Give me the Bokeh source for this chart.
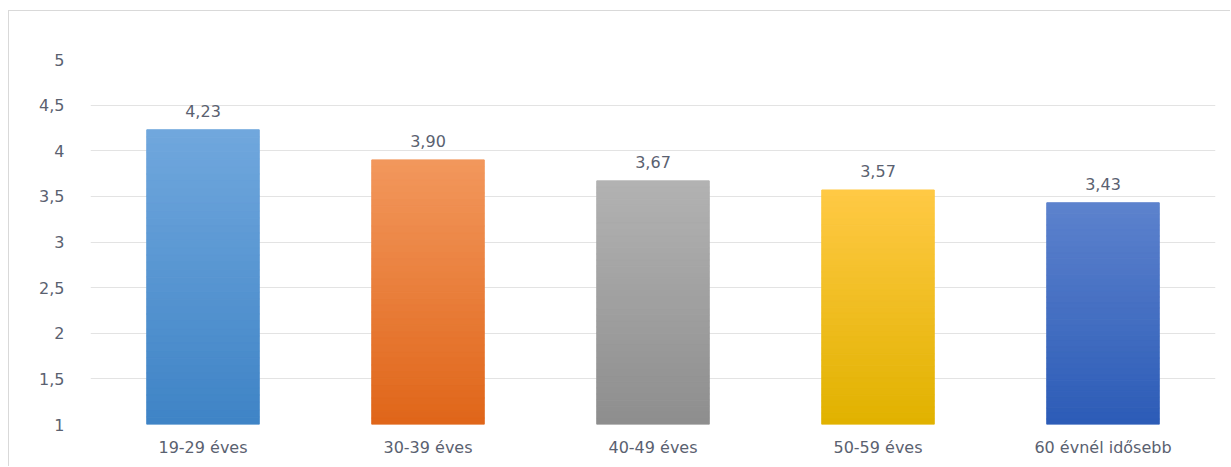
from bokeh.plotting import figure
from bokeh.models import FixedTicker, CustomJSTickFormatter, ColumnDataSource, Range1d
from bokeh.core.properties import value
from bokeh.embed import file_html
from bokeh.resources import INLINE

categories = ["19-29 éves", "30-39 éves", "40-49 éves", "50-59 éves", "60 évnél idősebb"]
values = [4.23, 3.90, 3.67, 3.57, 3.43]
labels = ["4,23", "3,90", "3,67", "3,57", "3,43"]
top_colors = ["#70a7dd", "#f2975c", "#b2b2b2", "#ffc944", "#5c82cd"]
bottom_colors = ["#3f84c6", "#e0661a", "#8e8e8e", "#e1b200", "#2d5cb7"]
y_ticks = [1, 1.5, 2, 2.5, 3, 3.5, 4, 4.5, 5]

TEXT = "#5a6170"
FONT = "DejaVu Sans"

p = figure(x_range=categories, width=1222, height=456, output_backend="svg",
           toolbar_location=None, min_border_left=81, min_border_top=48,
           min_border_right=16, min_border_bottom=43)
p.margin = (10, 0, 0, 8)
p.styles = {"border-top": "1px solid #d9d9d9", "border-left": "1px solid #d9d9d9"}
p.y_range = Range1d(1, 5)
p.x_range.range_padding = 0
p.outline_line_color = None
p.background_fill_color = "white"
p.border_fill_color = "white"

def hex2rgb(h):
    h = h.lstrip("#")
    return tuple(int(h[i:i + 2], 16) for i in (0, 2, 4))

def rgb2hex(c):
    return "#%02x%02x%02x" % tuple(int(round(v)) for v in c)

# gradient bars: thin horizontal slices, stroked in their own colour to hide seams
N = 40
xs, tops, bots, cols = [], [], [], []
for cat, v, tc, bc in zip(categories, values, top_colors, bottom_colors):
    t, b = hex2rgb(tc), hex2rgb(bc)
    h = (v - 1) / N
    for i in range(N):
        f = i / (N - 1)
        xs.append(cat)
        tops.append(v - h * i)
        bots.append(v - h * (i + 1))
        cols.append(rgb2hex([t[k] + (b[k] - t[k]) * f for k in range(3)]))
src = ColumnDataSource(dict(x=xs, top=tops, bottom=bots, color=cols))
p.vbar(x="x", top="top", bottom="bottom", width=0.5, fill_color="color",
       line_color="color", line_width=1, source=src)

lab = ColumnDataSource(dict(x=categories, y=values, t=labels))
p.text(x="x", y="y", text="t", source=lab, text_align="center", text_baseline="alphabetic",
       y_offset=-19, text_font=value(FONT), text_font_size="16px", text_color=TEXT)

p.yaxis.ticker = FixedTicker(ticks=y_ticks)
p.yaxis.formatter = CustomJSTickFormatter(code="return tick.toString().replace('.', ',');")
for ax in (p.xaxis, p.yaxis):
    ax.axis_line_color = None
    ax.major_tick_line_color = None
    ax.minor_tick_line_color = None
    ax.major_label_text_font = FONT
    ax.major_label_text_font_size = "16px"
    ax.major_label_text_color = TEXT
p.yaxis.major_label_standoff = 20
p.xaxis.major_label_standoff = 7
p.xgrid.grid_line_color = None
p.ygrid.grid_line_color = "#e3e3e3"
p.ygrid.grid_line_width = 1

open("out.html", "w").write(file_html(p, INLINE))
